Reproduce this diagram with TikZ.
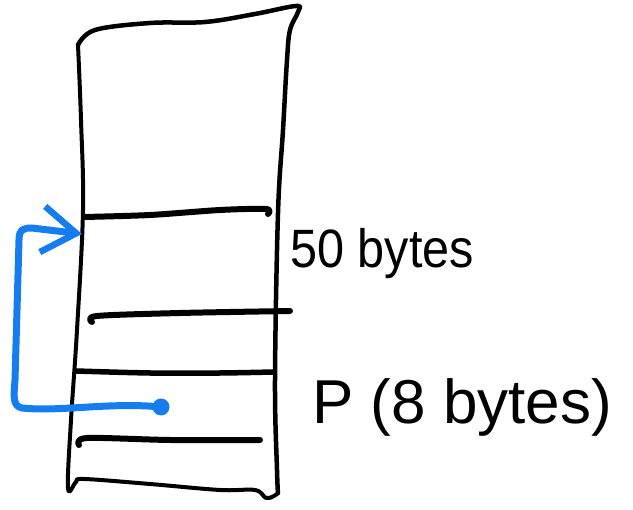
\documentclass[tikz,border=0pt]{standalone}
\usepackage{fontspec}
\setmainfont{Liberation Sans}
\usetikzlibrary{arrows.meta}
\definecolor{penblue}{RGB}{22,125,240}
\tikzset{
  pen/.style={line width=#1,line cap=round,line join=round},
  pen/.default=5.5pt,
  ptrline/.style={pen=7pt,penblue,-{Straight Barb[length=34pt,width=46pt,line width=6.5pt]}}
}
\begin{document}
\begin{tikzpicture}[x=1pt,y=-1pt]
\useasboundingbox (0,0) rectangle (633,510);
\draw[pen=4.5pt] plot[smooth,tension=0.6] coordinates {(78,45) (95,30) (150,23) (205,22) (255,14) (296,6) (298,12) (290,30) (287,60) (283,130) (278,213) (275,380) (277,470) (278,493)};
\draw[pen=4pt] plot[smooth,tension=0.6] coordinates {(78,45) (81,120) (83,210) (77,330) (71,420) (68,488) (76,482) (84,479) (150,484) (220,490) (255,490) (266,498) (274,496) (278,493)};
\draw[pen=6pt] plot[smooth] coordinates {(84,217) (150,215) (220,210) (266,209) (268,214)};
\draw[pen=6pt] plot[smooth] coordinates {(92,322) (97,316) (180,313) (290,311)};
\draw[pen] plot[smooth] coordinates {(76,371) (150,373) (220,373) (274,372)};
\draw[pen=6pt] plot[smooth] coordinates {(79,445) (87,438) (170,440) (260,440)};
\node[anchor=base west,font=\fontsize{54}{54}\selectfont,xscale=0.9,inner sep=0pt] (fifty) at (290,268) {50 bytes};
\node[anchor=base west,font=\fontsize{62}{62}\selectfont,inner sep=0pt] (pvar) at (312,424) {P (8 bytes)};
\coordinate (pdot) at (161,407);
\coordinate (slot) at (82,234);
\fill[penblue] (pdot) circle (8.5pt);
\draw[ptrline] (pdot) .. controls (110,402) and (60,412) .. (22,408) .. controls (12,406) and (14,395) .. (15,380) -- (19,240) .. controls (19,229) and (24,228) .. (32,228) -- (slot);
\end{tikzpicture}
\end{document}
